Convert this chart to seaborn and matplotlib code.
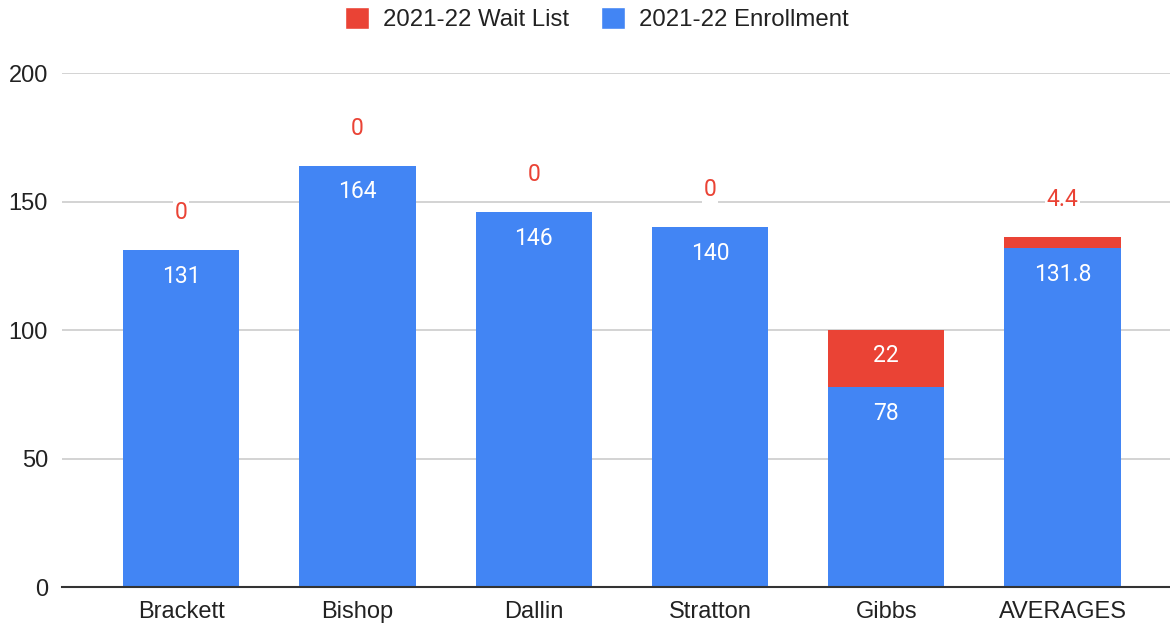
import matplotlib
matplotlib.use("Agg")
import matplotlib.pyplot as plt
import seaborn as sns
import pandas as pd
from matplotlib.patches import Patch

schools = ["Brackett", "Bishop", "Dallin", "Stratton", "Gibbs", "AVERAGES"]
enrollment = [131, 164, 146, 140, 78, 131.8]
wait_list = [0, 0, 0, 0, 22, 4.4]

RED = "#EA4335"
BLUE = "#4285F4"

df = pd.DataFrame({"school": schools, "enrollment": enrollment, "wait": wait_list})
df["total"] = df["enrollment"] + df["wait"]

sns.set_style("white")
plt.rcParams["font.family"] = ["Liberation Sans", "DejaVu Sans"]

fig = plt.figure(figsize=(11.7, 6.24), dpi=100)
ax = fig.add_axes([0.053, 0.059, 0.947, 0.824])

sns.barplot(data=df, x="school", y="total", color=RED, width=0.66,
            saturation=1, linewidth=0, ax=ax, zorder=2)
sns.barplot(data=df, x="school", y="enrollment", color=BLUE, width=0.66,
            saturation=1, linewidth=0, ax=ax, zorder=3)

ax.set_ylim(0, 200)
ax.set_xlim(-0.676, 5.61)
ax.set_yticks([0, 50, 100, 150, 200])
ax.yaxis.grid(True, color="#cccccc", linewidth=1.2, zorder=0)
ax.set_axisbelow(True)
for s in ["top", "right", "left"]:
    ax.spines[s].set_visible(False)
ax.spines["bottom"].set_color("#333333")
ax.spines["bottom"].set_linewidth(1.5)
ax.spines["bottom"].set_zorder(5)
ax.tick_params(axis="y", length=0, pad=10, labelsize=17, labelcolor="#222222")
ax.tick_params(axis="x", length=0, pad=10, labelsize=17, labelcolor="#222222")
ax.set_xlabel("")
ax.set_ylabel("")

lab = dict(family=["Roboto", "DejaVu Sans"], fontsize=16.5, ha="center", va="center")
for i, (e, w) in enumerate(zip(enrollment, wait_list)):
    ax.annotate(f"{e:g}", (i, e), xytext=(0, -19), textcoords="offset points",
                color="white", zorder=6, **lab)
    if w >= 10:
        ax.annotate(f"{w:g}", (i, e + w), xytext=(0, -18), textcoords="offset points",
                    color="white", zorder=6, **lab)
    else:
        ax.annotate(f"{w:g}", (i, e + w), xytext=(0, 27), textcoords="offset points",
                    color=RED, zorder=6,
                    bbox=dict(facecolor="white", edgecolor="none", pad=1), **lab)

handles = [Patch(facecolor=RED, label="2021-22 Wait List"),
           Patch(facecolor=BLUE, label="2021-22 Enrollment")]
fig.legend(handles=handles, loc="center", bbox_to_anchor=(0.51, 0.969), ncol=2,
           frameon=False, fontsize=17.3, handlelength=1.0, handleheight=1.0,
           handletextpad=0.6, columnspacing=1.3, labelcolor="#222222")

fig.savefig("out.png", dpi=100)
